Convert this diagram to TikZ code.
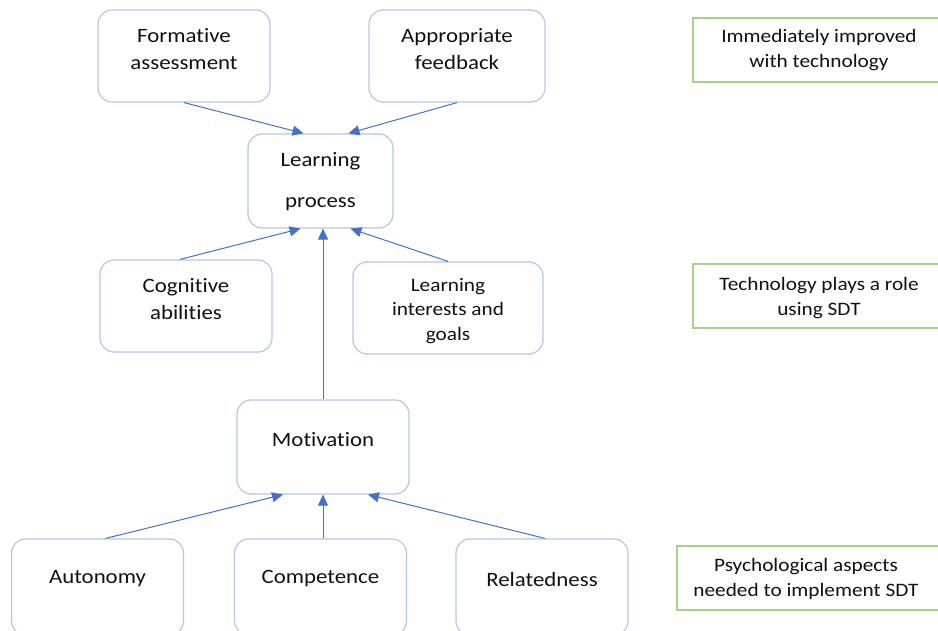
\documentclass[tikz,border=0pt]{standalone}
\usepackage{fontspec}
\setmainfont[FakeStretch=1.12,Ligatures=NoCommon]{Carlito}
\usetikzlibrary{arrows.meta,calc}
\definecolor{boxblue}{HTML}{B4C7E7}
\definecolor{arrblue}{HTML}{4472C4}
\definecolor{boxgreen}{HTML}{A9D18E}
\definecolor{txt}{HTML}{111111}
\tikzset{
  rbox/.style={draw=boxblue, line width=1.2pt, rounded corners=14pt, minimum width=172pt, minimum height=92pt, inner sep=0pt},
  gbox/.style={draw=boxgreen, line width=1.2pt, minimum width=250pt, minimum height=64pt, inner sep=0pt},
  mtext/.style={font=\fontsize{20.4}{27}\selectfont, text=txt, align=center, inner sep=0pt},
  stext/.style={font=\fontsize{19}{24.5}\selectfont, text=txt, align=center, inner sep=0pt},
  arr/.style={draw=arrblue, line width=1pt, -{Triangle[length=11pt,width=10pt]}}
}
\begin{document}
\begin{tikzpicture}[x=1pt,y=-1pt]
\useasboundingbox (0,0) rectangle (938,631);
% boxes
\node[rbox] (fa) at (184,56) {};
\node[mtext] (fat) at (184,49) {Formative\\assessment};
\node[rbox, minimum width=176pt] (af) at (457,56) {};
\node[mtext] (aft) at (457,49) {Appropriate\\feedback};
\node[rbox, minimum width=145pt, minimum height=94pt] (lp) at (320.5,181) {};
\node[mtext] (lpt) at (320.5,182) {Learning\\[14pt]process};
\node[rbox] (ca) at (186,306) {};
\node[mtext] (cat) at (186,299) {Cognitive\\abilities};
\node[rbox, minimum width=190pt] (li) at (448,308) {};
\node[stext] (lit) at (448,311) {Learning\\interests and\\goals};
\node[rbox, minimum width=172pt, minimum height=94pt] (mo) at (323,447) {};
\node[mtext] (mot) at (323,440) {Motivation};
\node[rbox, minimum height=96pt] (au) at (97.5,587) {};
\node[mtext] (aut) at (97.5,579) {Autonomy};
\node[rbox, minimum height=96pt] (co) at (320.5,587) {};
\node[mtext] (cot) at (320.5,579) {Competence};
\node[rbox, minimum height=96pt] (re) at (542,587) {};
\node[mtext] (ret) at (542,579) {Relatedness};
% green boxes
\node[gbox] (g1) at (818,50) {};
\node[stext] (g1t) at (819,50) {Immediately improved\\with technology};
\node[gbox] (g2) at (818,296) {};
\node[stext] (g2t) at (819,298) {Technology plays a role\\using SDT};
\node[gbox, minimum width=264pt] (g3) at (809,578) {};
\node[stext] (g3t) at (806,579) {Psychological aspects\\needed to implement SDT};
% arrows
\draw[arr] (fa.south) -- ($(lp.north)+(-17,0)$);
\draw[arr] (af.south) -- ($(lp.north)+(28,0)$);
\draw[arr] ($(ca.north)+(-6,0)$) -- ($(lp.south)+(-20,0)$);
\draw[arr] (li.north) -- ($(lp.south)+(30,0)$);
\draw[arr] (mo.north) -- ($(lp.south)+(2.5,0)$);
\draw[arr] ($(au.north)+(8,0)$) -- ($(mo.south)+(-40,0)$);
\draw[arr] ($(co.north)+(2.5,0)$) -- (mo.south);
\draw[arr] ($(re.north)+(3,0)$) -- ($(mo.south)+(45,0)$);
\end{tikzpicture}
\end{document}
